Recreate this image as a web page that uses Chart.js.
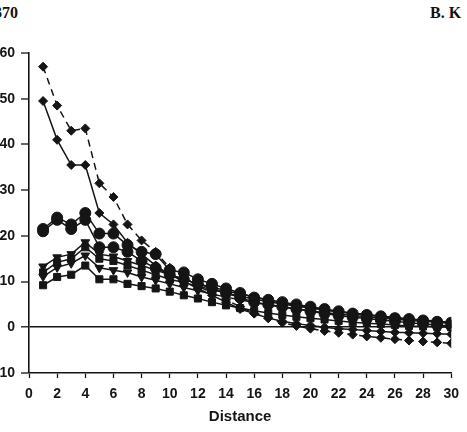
<!DOCTYPE html>
<html>
<head>
<meta charset="utf-8">
<script src="https://cdn.jsdelivr.net/npm/chart.js@4/dist/chart.umd.min.js"></script>
<style>
  html, body { margin: 0; padding: 0; background: #fff; overflow: hidden; }
  #wrap { position: relative; width: 467px; height: 432px; overflow: hidden; }
  #c { position: absolute; left: 0; top: 0; }
  .hdr { position: absolute; font-family: "Liberation Serif", serif; font-weight: bold; font-size: 16px; color: #111; white-space: nowrap; }
</style>
</head>
<body>
<div id="wrap">
  <div class="hdr" style="left:-6px; top:4px;">370</div>
  <div class="hdr" style="left:430px; top:4px;">B. K</div>
  <canvas id="c" width="467" height="432"></canvas>
</div>
<script>
// distance 1..30
const distances = [1, 2, 3, 4, 5, 6, 7, 8, 9, 10, 11, 12, 13, 14, 15, 16, 17, 18, 19, 20, 21, 22, 23, 24, 25, 26, 27, 28, 29, 30];

const dashedDiamond = [57, 48.5, 43, 43.5, 31.5, 28.5, 22.5, 19, 16.5, 13, 11, 9, 7.5, 6, 4.5, 3, 2, 1, 0.3, -0.3, -0.8, -1.2, -1.6, -2, -2.3, -2.6, -2.9, -3.1, -3.3, -3.5];
const solidDiamond = [49.5, 41, 35.5, 35.5, 25, 22.5, 18.5, 16, 13.5, 11.5, 10, 8.5, 7, 5.5, 4, 3, 2, 1.3, 0.8, 0.4, 0, -0.3, -0.5, -0.7, -0.9, -1.1, -1.2, -1.3, -1.4, -1.5];
const circleA = [21.5, 24, 22.5, 25, 20.5, 20.5, 18, 16.5, 16, 12.5, 12, 10.5, 9.5, 8.5, 7.5, 6.5, 6, 5.5, 5, 4.5, 4, 3.5, 3, 2.7, 2.4, 2, 1.8, 1.5, 1.2, 1];
const circleB = [21, 23.5, 21.5, 23.5, 17.5, 17.5, 16.5, 14.5, 13, 11.5, 10.5, 9.5, 8.5, 7.5, 6.5, 5.5, 5, 4.5, 4, 3.5, 3, 2.6, 2.2, 1.9, 1.6, 1.3, 1, 0.8, 0.5, 0.3];
const triDownA = [13.3, 15.3, 16, 18.6, 16, 15.5, 14.5, 13.5, 12.5, 11.5, 10.5, 9.5, 8.8, 8, 7.3, 6.7, 6, 5.3, 4.8, 4.3, 3.8, 3.4, 3.1, 2.8, 2.4, 2.1, 1.8, 1.5, 1.2, 0.9];
const squareA = [12, 14.2, 15, 17.5, 15, 14.5, 13.5, 12.5, 11.5, 10.5, 9.8, 9, 8.2, 7.5, 6.8, 6.2, 5.6, 5.1, 4.6, 4.2, 3.8, 3.4, 3, 2.7, 2.4, 2.1, 1.8, 1.6, 1.3, 1.1];
const triDownB = [11.1, 13.1, 14, 15.7, 13, 12.5, 12, 11, 10.3, 9.5, 8.7, 8, 7.3, 6.6, 6, 5.4, 4.9, 4.4, 4, 3.6, 3.2, 2.9, 2.6, 2.3, 2, 1.8, 1.5, 1.3, 1.1, 0.9];
const squareB = [9.2, 11, 11.5, 13.5, 10.5, 10.5, 9.5, 9, 8.5, 7.8, 7, 6.3, 5.5, 4.8, 4.2, 3.6, 3.1, 2.7, 2.3, 2, 1.7, 1.4, 1.1, 0.9, 0.7, 0.5, 0.3, 0.2, 0.1, 0];

const ink = '#151515';

function series(values, style, radius, extra) {
  return Object.assign({
    data: values.map((v, i) => ({ x: distances[i], y: v })),
    borderColor: ink,
    backgroundColor: ink,
    borderWidth: 1.5,
    pointStyle: style,
    pointRadius: radius,
    pointBorderWidth: 1,
    pointBackgroundColor: ink,
    pointBorderColor: ink,
    tension: 0
  }, extra || {});
}

const datasets = [
  series(squareB, 'rect', 5),
  series(triDownB, 'triangle', 5, { pointRotation: 180 }),
  series(squareA, 'rect', 5),
  series(triDownA, 'triangle', 5, { pointRotation: 180 }),
  series(circleB, 'circle', 5.5),
  series(circleA, 'circle', 5.5),
  series(solidDiamond, 'rectRot', 4.5),
  series(dashedDiamond, 'rectRot', 4.5, { borderDash: [7, 5] })
];

const tickFont = { family: '"Liberation Sans", Arial, sans-serif', size: 14, weight: 'bold' };

new Chart(document.getElementById('c'), {
  type: 'line',
  data: { datasets: datasets },
  options: {
    responsive: false,
    devicePixelRatio: 1,
    animation: false,
    layout: { padding: { top: 53, right: 13, left: 0, bottom: 0 } },
    plugins: { legend: { display: false }, tooltip: { enabled: false } },
    scales: {
      x: {
        type: 'linear',
        min: 0,
        max: 30,
        ticks: { stepSize: 2, color: ink, font: tickFont, padding: 8, maxRotation: 0 },
        grid: { drawOnChartArea: false, tickLength: 5, tickColor: ink, tickWidth: 1.3 },
        border: { color: ink, width: 1.6 },
        title: { display: true, text: 'Distance', color: ink, font: { family: tickFont.family, size: 15, weight: 'bold' }, padding: { top: 0, bottom: 6 } },
        afterFit: s => { s.height = 59; }
      },
      y: {
        min: -10,
        max: 60,
        ticks: { stepSize: 10, color: ink, font: tickFont, padding: 6 },
        grid: {
          color: c => (c.tick && c.tick.value === 0 ? ink : 'transparent'),
          lineWidth: c => (c.tick && c.tick.value === 0 ? 1.6 : 0),
          tickColor: ink,
          tickWidth: 1.3,
          tickLength: 8
        },
        border: { color: ink, width: 1.6 },
        afterFit: s => { s.width = 29; }
      }
    }
  }
});
</script>
</body>
</html>
